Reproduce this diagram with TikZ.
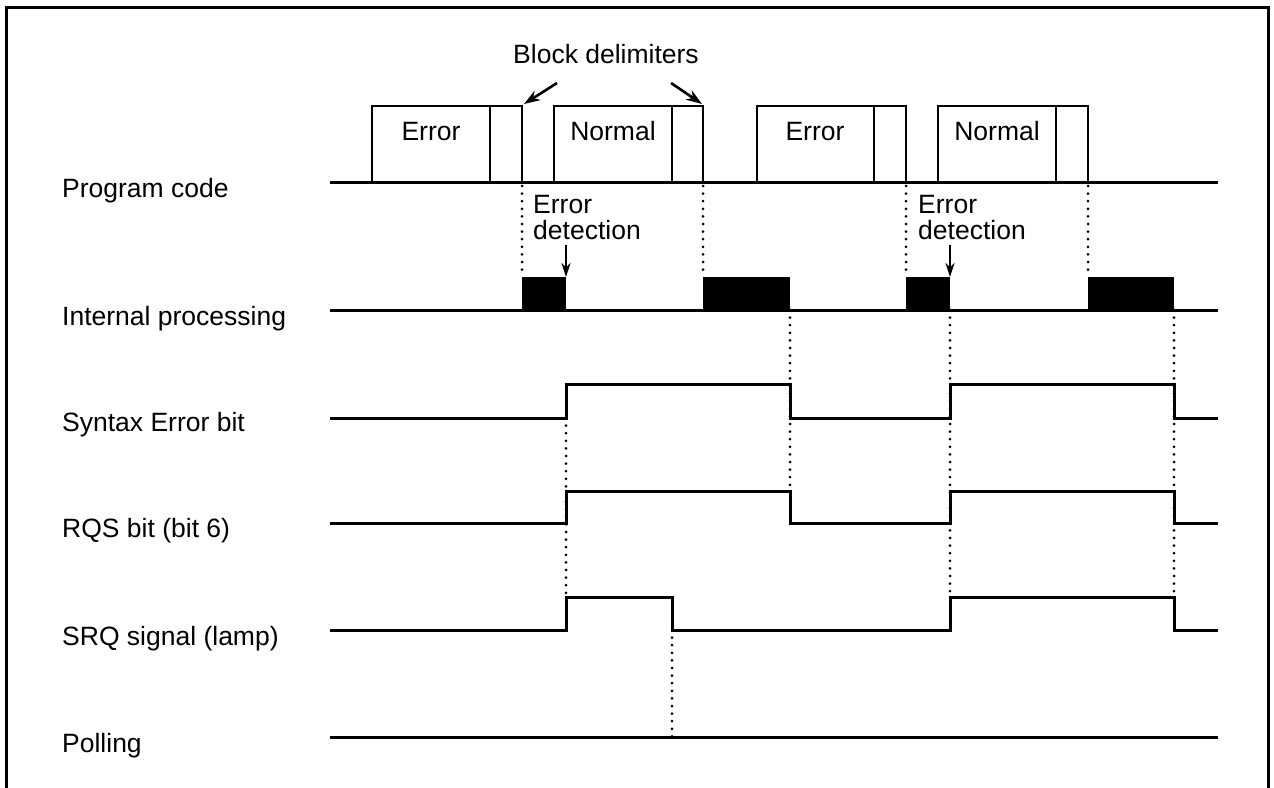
\documentclass[tikz,border=0pt]{standalone}
\usepackage{fontspec}
\setmainfont{Liberation Sans}
\usetikzlibrary{arrows.meta}

\begin{document}
\begin{tikzpicture}[x=1pt, y=-1pt,
    every node/.style={font=\fontsize{26.5}{26}\selectfont, inner sep=0pt},
    sig/.style={line width=3pt},
    blockbox/.style={draw, line width=2.6pt},
    dots/.style={line width=3pt, dash pattern=on 0pt off 7.6pt, line cap=round},
    lbl/.style={anchor=base west},
    ptr/.style={-{Stealth[length=16pt, width=11pt]}, line width=2.6pt}]

\useasboundingbox (0,0) rectangle (1274,787);
\clip (0,0) rectangle (1274,787);

% --- FRAME ---
\draw[line width=3pt] (6,800) -- (6,7) -- (1268,7) -- (1268,800);

% --- ROW LABELS ---
\node[lbl] (lprog) at (62,197) {Program code};
\node[lbl] (lint)  at (62,325) {Internal processing};
\node[lbl] (lsyn)  at (62,431) {Syntax Error bit};
\node[lbl] (lrqs)  at (62,537) {RQS bit (bit 6)};
\node[lbl] (lsrq)  at (62,645) {SRQ signal (lamp)};
\node[lbl] (lpoll) at (62,752) {Polling};

% --- DOTTED TIMING LINES ---
\draw[dots] (522,186) -- (522,277);
\draw[dots] (703,186) -- (703,277);
\draw[dots] (906,186) -- (906,277);
\draw[dots] (1088,186) -- (1088,277);
\draw[dots] (566,418) -- (566,597);
\draw[dots] (790,310) -- (790,491);
\draw[dots] (950,310) -- (950,597);
\draw[dots] (1174,310) -- (1174,597);
\draw[dots] (672,630) -- (672,737);

% --- PROGRAM CODE ---
\draw[sig] (330,182) -- (1218,182);
\draw[blockbox] (372,182) rectangle (522,106) (490,106) -- (490,182);
\draw[blockbox] (554,182) rectangle (703,106) (672,106) -- (672,182);
\draw[blockbox] (757,182) rectangle (906,106) (874,106) -- (874,182);
\draw[blockbox] (938,182) rectangle (1088,106) (1056,106) -- (1056,182);
\node[anchor=base] (err1)  at (431,140) {Error};
\node[anchor=base] (norm1) at (613,140) {Normal};
\node[anchor=base] (err2)  at (815,140) {Error};
\node[anchor=base] (norm2) at (997,140) {Normal};

% Block delimiters
\node[anchor=base] (blk) at (606,63) {Block delimiters};
\coordinate (blkL) at (557,83);
\coordinate (blkR) at (671,83);
\coordinate (dl1) at (524,104);
\coordinate (dl2) at (702,104);
\draw[ptr] (blkL) -- (dl1);
\draw[ptr] (blkR) -- (dl2);

% --- INTERNAL PROCESSING ---
\draw[sig] (330,310) -- (1218,310);
\fill (522,277) rectangle (566,310);
\fill (703,277) rectangle (790,310);
\fill (906,277) rectangle (950,310);
\fill (1088,277) rectangle (1174,310);

% Error detection
\node[lbl, align=left] (det1) at (533,239) {Error\\detection};
\node[lbl, align=left] (det2) at (918,239) {Error\\detection};
\coordinate (d1top) at (566,245);
\coordinate (d1bot) at (566,277);
\coordinate (d2top) at (950,245);
\coordinate (d2bot) at (950,277);
\draw[ptr, -{Stealth[length=14pt, width=9pt]}] (d1top) -- (d1bot);
\draw[ptr, -{Stealth[length=14pt, width=9pt]}] (d2top) -- (d2bot);

% --- STATUS SIGNALS ---
\draw[sig] (330,418) -- (566,418) -- (566,384) -- (790,384) -- (790,418)
    -- (950,418) -- (950,384) -- (1174,384) -- (1174,418) -- (1218,418);
\draw[sig] (330,523) -- (566,523) -- (566,491) -- (790,491) -- (790,523)
    -- (950,523) -- (950,491) -- (1174,491) -- (1174,523) -- (1218,523);
\draw[sig] (330,630) -- (566,630) -- (566,597) -- (672,597) -- (672,630)
    -- (950,630) -- (950,597) -- (1174,597) -- (1174,630) -- (1218,630);
\draw[sig] (330,737) -- (1218,737);

\end{tikzpicture}
\end{document}
